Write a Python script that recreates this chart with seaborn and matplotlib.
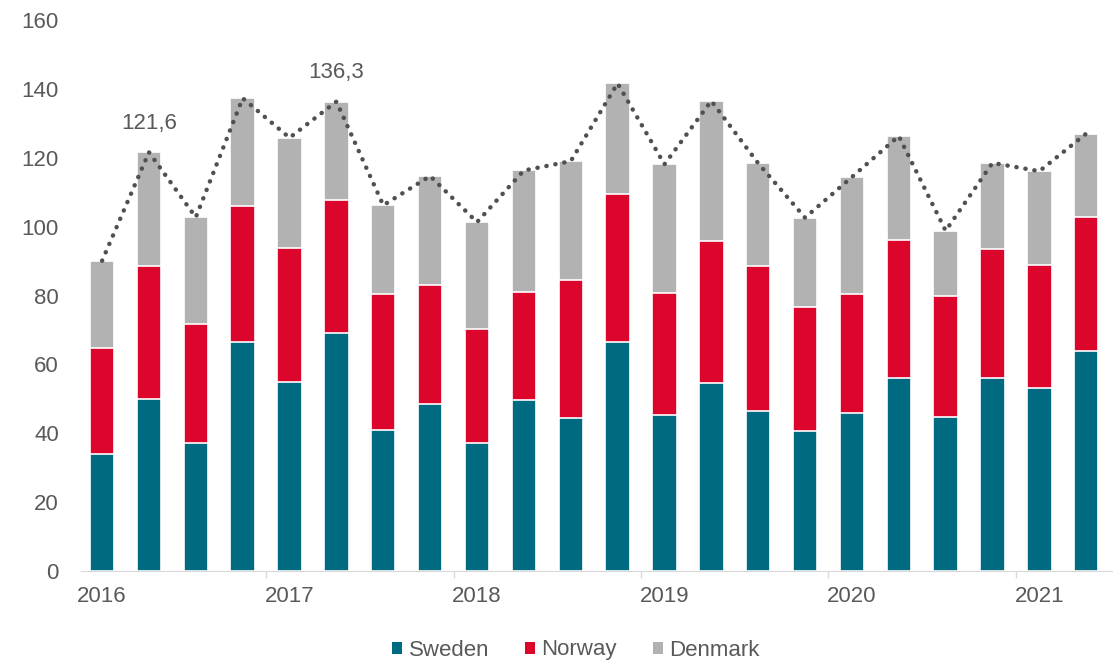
import numpy as np
import pandas as pd
import matplotlib
matplotlib.use("Agg")
import matplotlib.pyplot as plt
from matplotlib.patches import Patch
import seaborn as sns

quarters = ["2016Q1", "2016Q2", "2016Q3", "2016Q4", "2017Q1", "2017Q2", "2017Q3", "2017Q4",
            "2018Q1", "2018Q2", "2018Q3", "2018Q4", "2019Q1", "2019Q2", "2019Q3", "2019Q4",
            "2020Q1", "2020Q2", "2020Q3", "2020Q4", "2021Q1", "2021Q2"]
sweden = [34.0, 49.9, 37.2, 66.4, 55.0, 69.1, 40.9, 48.5, 37.2, 49.6, 44.4,
          66.4, 45.3, 54.7, 46.5, 40.6, 45.9, 56.1, 44.7, 56.0, 53.1, 64.0]
norway = [30.7, 38.7, 34.6, 39.6, 38.9, 38.6, 39.5, 34.5, 33.0, 31.5, 40.0,
          43.1, 35.4, 41.2, 42.2, 36.2, 34.5, 39.9, 35.3, 37.6, 35.8, 38.7]
denmark = [25.4, 33.0, 30.9, 31.3, 31.9, 28.6, 25.8, 31.7, 31.1, 35.2, 34.6,
           32.1, 37.4, 40.6, 29.7, 25.8, 34.0, 30.3, 18.8, 24.9, 27.2, 24.3]
year_labels = ["2016", "2017", "2018", "2019", "2020", "2021"]
callouts = {1: "121,6", 5: "136,3"}

df = pd.DataFrame({"quarter": quarters, "Sweden": sweden, "Norway": norway, "Denmark": denmark})
df["sn"] = df["Sweden"] + df["Norway"]
df["total"] = df["sn"] + df["Denmark"]

c_se = "#006a80"
c_no = "#dc062d"
c_dk = "#b2b2b2"
grey = "#595959"
fs = 16

plt.rcParams["font.family"] = ["Liberation Sans", "DejaVu Sans"]
fig = plt.figure(figsize=(11.14, 6.63), dpi=100)
ax = fig.add_axes([81 / 1114, 1 - 571 / 663, 1031 / 1114, 551 / 663])

# stacked bars drawn as overlapping cumulative layers
sns.barplot(data=df, x="quarter", y="total", order=quarters, color=c_dk, width=0.52,
            edgecolor="white", linewidth=1.2, saturation=1, ax=ax)
sns.barplot(data=df, x="quarter", y="sn", order=quarters, color=c_no, width=0.52,
            edgecolor="white", linewidth=1.2, saturation=1, ax=ax)
sns.barplot(data=df, x="quarter", y="Sweden", order=quarters, color=c_se, width=0.52,
            edgecolor="white", linewidth=1.2, saturation=1, ax=ax)

pos = np.arange(len(quarters))
ax.plot(pos, df["total"], color="#505050", linewidth=3.2,
        linestyle=(0, (0.05, 2.0)), dash_capstyle="round", zorder=5)

for i, txt in callouts.items():
    ax.text(i, df["total"][i] + 6.8, txt, ha="center", va="baseline", fontsize=fs, color=grey)

ax.set_ylim(0, 160)
ax.set_xlim(-0.45, 21.55)
ax.set_yticks(range(0, 161, 20))
ax.set_xticks(range(0, 22, 4))
ax.set_xticklabels(year_labels)
ax.set_xticks([3.5, 7.5, 11.5, 15.5, 19.5], minor=True)
ax.tick_params(axis="x", which="major", length=0, pad=11, labelsize=fs, labelcolor=grey)
ax.tick_params(axis="x", which="minor", length=5, color="#d9d9d9", width=1)
ax.tick_params(axis="y", length=0, pad=16, labelsize=fs, labelcolor=grey)
ax.set_xlabel("")
ax.set_ylabel("")
for s in ["top", "right", "left"]:
    ax.spines[s].set_visible(False)
ax.spines["bottom"].set_color("#d9d9d9")

hs = [Patch(facecolor=c, edgecolor="none") for c in [c_se, c_no, c_dk]]
fig.legend(hs, ["Sweden", "Norway", "Denmark"], loc="center", bbox_to_anchor=(0.517, 1 - 650 / 663),
           ncol=3, frameon=False, fontsize=fs, labelcolor=grey, handlelength=0.45, handleheight=0.45,
           handletextpad=0.3, columnspacing=1.6, borderpad=0)

fig.savefig("out.png", dpi=100)
